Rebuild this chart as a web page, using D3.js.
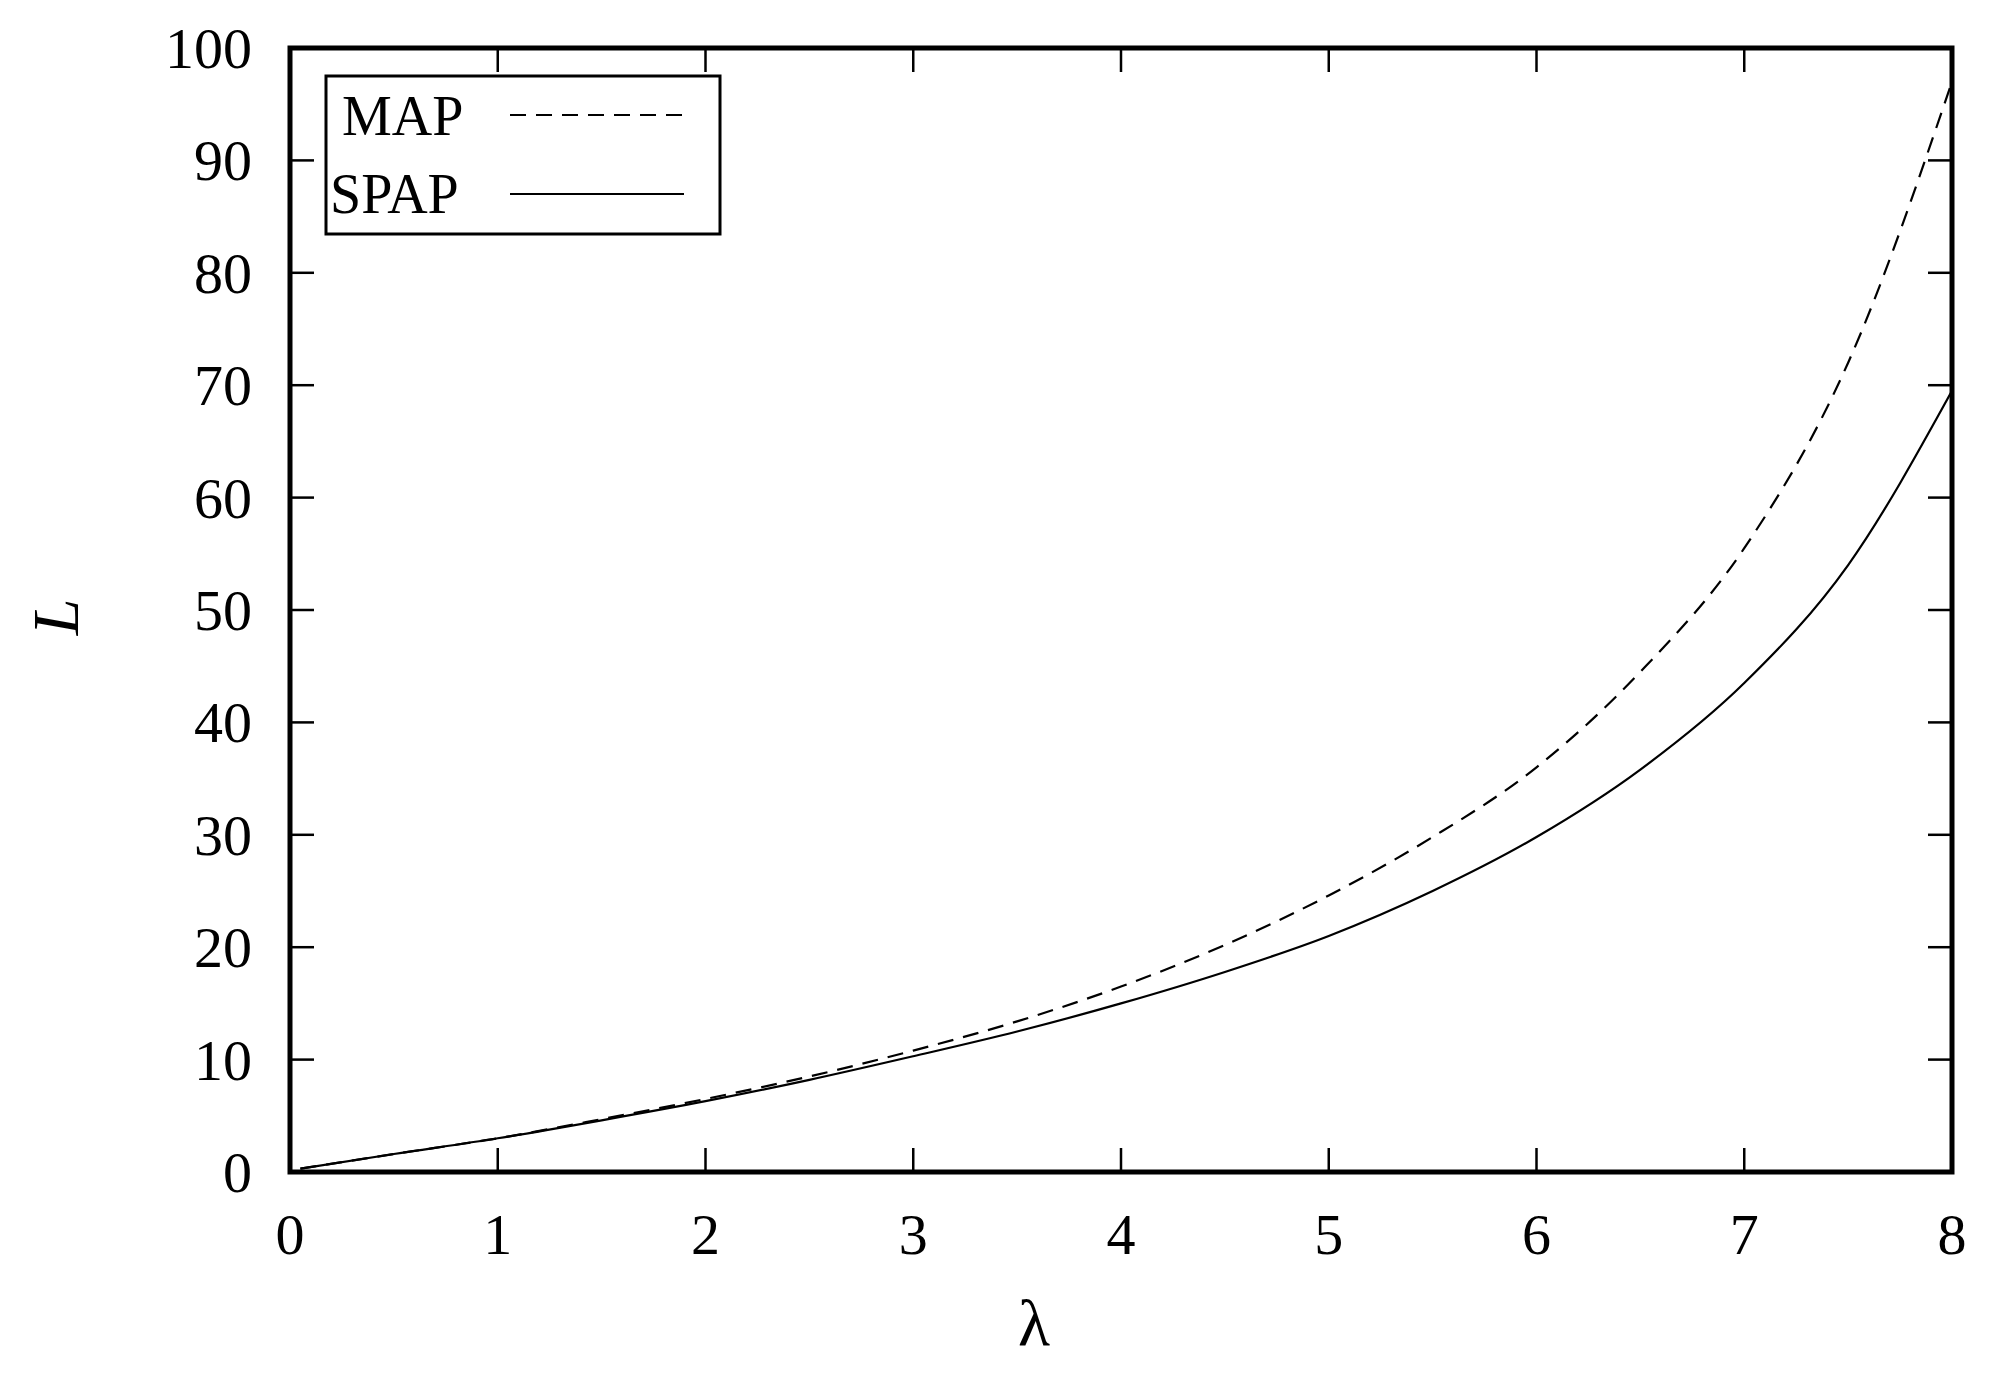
<!DOCTYPE html><html><head><meta charset="utf-8"><script src="https://cdn.jsdelivr.net/npm/d3@7"></script>
<style>body{margin:0;background:#fff}text{font-family:"Liberation Serif","DejaVu Serif",serif;fill:#000}</style></head><body>
<script>
const lambdaVals=[0.05,0.5,1,1.5,2,2.5,3,3.5,4,4.5,5,5.5,6,6.5,7,7.5,8];
const mapVals=[0.3,1.6,3,4.7,6.5,8.5,10.8,13.4,16.5,20.2,24.6,29.8,36,44.5,55.5,72,97];
const spapVals=[0.3,1.6,3,4.6,6.3,8.2,10.3,12.5,15,17.8,21,25,29.8,35.8,43.5,54,69.5];
const xTicks=[0,1,2,3,4,5,6,7,8];
const yTicks=[0,10,20,30,40,50,60,70,80,90,100];
const W=2005,H=1380,L=290,T=48,R=1952,B=1172;
const svg=d3.select("body").append("svg").attr("width",W).attr("height",H);
const x=d3.scaleLinear().domain([0,8]).range([L,R]);
const y=d3.scaleLinear().domain([0,100]).range([B,T]);
const g=svg.append("g");
xTicks.forEach(t=>{
 if(t>0&&t<8){g.append("line").attr("x1",x(t)).attr("x2",x(t)).attr("y1",B).attr("y2",B-24).attr("stroke","#000").attr("stroke-width",2.5);
 g.append("line").attr("x1",x(t)).attr("x2",x(t)).attr("y1",T).attr("y2",T+24).attr("stroke","#000").attr("stroke-width",2.5);}
 g.append("text").attr("x",x(t)).attr("y",1254).attr("text-anchor","middle").attr("font-size",58).text(t);
});
yTicks.forEach(t=>{
 if(t>0&&t<100){g.append("line").attr("y1",y(t)).attr("y2",y(t)).attr("x1",L).attr("x2",L+24).attr("stroke","#000").attr("stroke-width",2.5);
 g.append("line").attr("y1",y(t)).attr("y2",y(t)).attr("x1",R).attr("x2",R-24).attr("stroke","#000").attr("stroke-width",2.5);}
 g.append("text").attr("x",252).attr("y",y(t)+20).attr("text-anchor","end").attr("font-size",58).text(t);
});
const line=d3.line().x(d=>x(d[0])).y(d=>y(d[1])).curve(d3.curveMonotoneX);
svg.append("path").attr("d",line(lambdaVals.map((l,i)=>[l,mapVals[i]]))).attr("fill","none").attr("stroke","#000").attr("stroke-width",2.2).attr("stroke-dasharray","16,10");
svg.append("path").attr("d",line(lambdaVals.map((l,i)=>[l,spapVals[i]]))).attr("fill","none").attr("stroke","#000").attr("stroke-width",2.2);
svg.append("rect").attr("x",L).attr("y",T).attr("width",R-L).attr("height",B-T).attr("fill","none").attr("stroke","#000").attr("stroke-width",5);
// legend
svg.append("rect").attr("x",326).attr("y",76).attr("width",394).attr("height",158).attr("fill","#fff").attr("stroke","#000").attr("stroke-width",3);
svg.append("text").attr("x",342).attr("y",135).attr("font-size",56).text("MAP");
svg.append("text").attr("x",330).attr("y",213).attr("font-size",56).text("SPAP");
svg.append("line").attr("x1",510).attr("x2",684).attr("y1",115).attr("y2",115).attr("stroke","#000").attr("stroke-width",2.2).attr("stroke-dasharray","16,10");
svg.append("line").attr("x1",510).attr("x2",684).attr("y1",194).attr("y2",194).attr("stroke","#000").attr("stroke-width",2.2);
svg.append("text").attr("x",1034).attr("y",1345).attr("text-anchor","middle").attr("font-size",66).text("λ");
svg.append("text").attr("transform","translate(78,617) rotate(-90)").attr("text-anchor","middle").attr("font-size",66).attr("font-style","italic").text("L");
</script></body></html>
